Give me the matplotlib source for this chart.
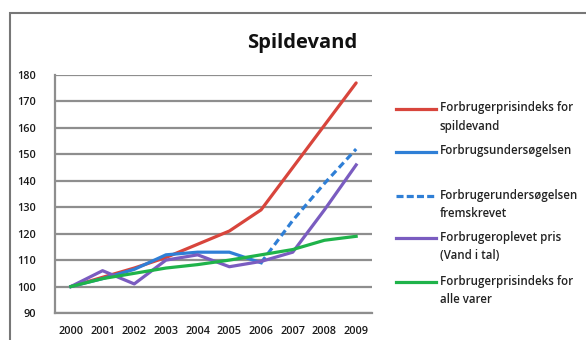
import numpy as np
import matplotlib
matplotlib.use("Agg")
import matplotlib.pyplot as plt
from matplotlib.lines import Line2D
from matplotlib.patches import Rectangle

plt.rcParams['font.family'] = ['Open Sans', 'DejaVu Sans']

years = ["2000", "2001", "2002", "2003", "2004", "2005", "2006", "2007", "2008", "2009"]

fpi_spildevand = [100, 103.5, 107, 111, 116, 121, 129, 145, 161, 177]
forbrugsundersoegelsen = [100, 103, 106.5, 112, 113, 113, 109, None, None, None]
fremskrevet = [None, None, None, None, None, None, 109, 125, 139, 152]
oplevet_pris = [100, 106, 101, 110, 112, 107.5, 109.5, 113, 129, 146]
fpi_alle = [100, 103, 105, 107, 108.3, 110, 112, 114, 117.5, 119]

labels = [
    "Forbrugerprisindeks for\nspildevand",
    "Forbrugsundersøgelsen",
    "Forbrugerundersøgelsen\nfremskrevet",
    "Forbrugeroplevet pris\n(Vand i tal)",
    "Forbrugerprisindeks for\nalle varer",
]
y_ticks = [90, 100, 110, 120, 130, 140, 150, 160, 170, 180]

RED = "#d8453c"
BLUE = "#2f7fd6"
PURPLE = "#7a5cc0"
GREEN = "#1fb34a"
GRID = "#8e8e8e"


def arr(v):
    return np.array([np.nan if x is None else x for x in v], dtype=float)


W, H = 586, 340
fig = plt.figure(figsize=(W / 100, H / 100), dpi=100)
fig.patch.set_facecolor("white")

# outer frame
fig.add_artist(Rectangle((10 / W, -0.05), 1.2, 1 - 13 / H + 0.05,
                         transform=fig.transFigure, fill=False,
                         edgecolor="#777777", linewidth=1.5))

ax = fig.add_axes([55 / W, 1 - 313 / H, (372 - 55) / W, (313 - 75) / H])
x = np.arange(len(years))
lw = 2.3
ax.plot(x, arr(fpi_spildevand), color=RED, lw=lw, solid_capstyle="round", zorder=3)
ax.plot(x, arr(fremskrevet), color=BLUE, lw=lw, ls=(0, (2.2, 1.3)), zorder=3)
ax.plot(x, arr(forbrugsundersoegelsen), color=BLUE, lw=lw, zorder=3)
ax.plot(x, arr(oplevet_pris), color=PURPLE, lw=lw, zorder=3)
ax.plot(x, arr(fpi_alle), color=GREEN, lw=lw, zorder=4)

ax.set_xlim(-0.5, 9.5)
ax.set_ylim(90, 180)
ax.set_yticks(y_ticks)
ax.set_xticks(x)
ax.set_xticklabels(years)
ax.yaxis.grid(True, color=GRID, lw=1.6)
ax.set_axisbelow(True)
for s in ["top", "right"]:
    ax.spines[s].set_visible(False)
ax.spines["left"].set_color(GRID)
ax.spines["left"].set_linewidth(1.6)
ax.spines["bottom"].set_color(GRID)
ax.spines["bottom"].set_linewidth(1.6)
ax.tick_params(length=0, labelsize=7.8, colors="#1a1a1a")
ax.tick_params(axis="x", pad=9)
ax.tick_params(axis="y", pad=14)
for t in ax.get_xticklabels() + ax.get_yticklabels():
    t.set_fontweight("semibold")

fig.text(302 / W, 1 - 43 / H, "Spildevand", ha="center", va="center",
         fontsize=14.5, fontweight="bold", color="#111111")

# legend
entries = [
    (RED, "-", 109),
    (BLUE, "-", 152),
    (BLUE, "--", 196),
    (PURPLE, "-", 238),
    (GREEN, "-", 282),
]
for (c, ls, yy), lab in zip(entries, labels):
    yf = 1 - yy / H
    style = (0, (2.2, 1.0)) if ls == "--" else "-"
    fig.add_artist(Line2D([396 / W, 436 / W], [yf, yf], color=c, lw=lw,
                          ls=style, transform=fig.transFigure))
    fig.text(440 / W, yf + 7.5 / H, lab, ha="left", va="top", fontsize=8.3,
             fontweight="semibold", color="#222222", linespacing=1.55)

fig.savefig("out.png", dpi=100)
